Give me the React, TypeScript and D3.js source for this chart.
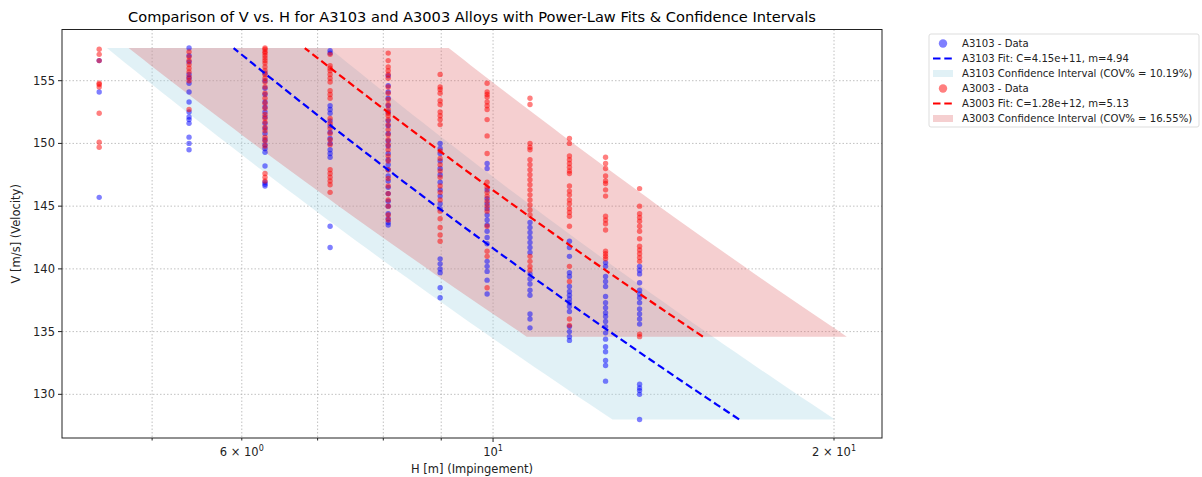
import React from 'react';
import * as d3 from 'd3';

// H positions of the test columns (log axis)
const hValues = [4.49, 5.39, 6.29, 7.18, 8.08, 8.98, 9.88, 10.78, 11.68, 12.57, 13.47];

// A3103 velocities per H column
const a3103V = [
  [156.6, 154.1, 145.7],
  [157.6, 157.0, 156.5, 155.5, 155.2, 154.8, 154.1, 153.3, 152.5, 152.1, 151.9, 151.6, 150.5, 150.0, 149.5],
  [155.6, 155.0, 154.4, 153.9, 153.3, 152.9, 152.5, 152.1, 151.6, 151.2, 150.8, 150.3, 149.9, 149.6, 149.3, 148.2, 146.9, 146.75, 146.6],
  [157.4, 157.2, 153.0, 152.7, 152.4, 151.8, 151.4, 150.9, 150.4, 150.0, 149.5, 149.2, 148.9, 143.4, 141.7],
  [155.4, 154.6, 154.1, 153.6, 153.0, 152.5, 151.8, 151.4, 150.8, 150.2, 149.8, 149.2, 148.7, 148.3, 147.9, 147.4, 147.0, 146.5, 146.0, 145.4, 145.0, 144.4, 144.0, 143.7, 143.5],
  [150.0, 149.6, 149.2, 148.6, 148.0, 147.5, 146.9, 146.3, 145.8, 145.2, 144.8, 140.8, 140.4, 140.0, 139.7, 138.5, 137.7],
  [148.4, 148.0, 146.3, 145.6, 145.2, 144.8, 144.3, 143.9, 143.5, 143.0, 142.5, 142.0, 140.6, 140.2, 139.8, 139.1, 138.0],
  [143.7, 143.3, 142.9, 142.5, 142.1, 141.7, 141.3, 139.6, 139.2, 138.8, 138.3, 137.9, 136.4, 136.0, 135.3],
  [142.2, 141.7, 141.0, 139.7, 139.4, 138.6, 138.2, 137.9, 137.6, 137.3, 137.0, 136.6, 135.4, 135.0, 134.6, 134.3],
  [140.5, 140.2, 139.4, 139.0, 138.6, 137.8, 137.3, 136.9, 136.5, 136.2, 135.8, 135.4, 134.9, 134.4, 133.8, 133.4, 132.7, 132.3, 131.05],
  [140.2, 139.9, 139.6, 138.9, 138.3, 138.0, 137.7, 137.3, 136.8, 136.4, 136.0, 135.6, 130.8, 130.5, 130.3, 130.0, 128.0],
];

// A3003 velocities per H column
const a3003V = [
  [157.5, 157.1, 156.6, 154.8, 154.7, 154.5, 152.4, 150.1, 149.7],
  [157.3, 156.9, 156.6, 156.3, 156.0, 155.7, 155.3, 155.0, 152.7],
  [157.6, 157.5, 157.3, 157.2, 157.0, 156.8, 156.6, 156.4, 156.1, 155.8, 155.5, 155.2, 154.9, 154.5, 154.0, 153.6, 153.2, 152.8, 152.3, 152.0, 151.7, 151.3, 151.0, 150.5, 150.2, 149.8, 147.6, 147.3, 147.0],
  [157.1, 156.2, 156.0, 155.8, 155.5, 155.2, 154.9, 154.2, 153.9, 153.6, 152.0, 151.6, 151.2, 150.8, 150.3, 149.9, 147.9, 147.6, 147.3, 147.0, 146.7, 146.1],
  [157.2, 156.6, 156.1, 155.8, 155.5, 155.2, 154.5, 154.0, 153.5, 153.1, 152.7, 152.4, 152.2, 151.9, 151.5, 151.1, 150.7, 150.3, 149.9, 149.5, 149.0, 148.6, 147.9, 147.2, 146.6, 146.0, 145.5, 145.0, 144.3, 143.9],
  [155.5, 154.5, 154.3, 154.0, 153.4, 153.1, 152.5, 152.2, 151.9, 151.5, 149.4, 148.8, 148.3, 147.8, 147.3, 146.6, 146.1, 145.5, 144.6, 144.0, 143.3, 142.7, 142.2],
  [154.8, 154.1, 153.9, 153.7, 153.3, 153.0, 152.7, 151.9, 150.6, 149.2, 146.9, 146.5, 146.1, 145.8, 145.4, 145.0, 144.6, 143.4, 141.4, 141.0, 138.5],
  [153.6, 153.1, 150.0, 149.7, 149.5, 148.7, 148.3, 147.9, 147.5, 147.1, 146.7, 146.3, 145.9, 145.5, 145.1, 144.7, 144.3, 141.0, 140.6, 140.2, 139.9],
  [150.4, 150.0, 149.0, 148.7, 148.4, 148.1, 147.8, 147.6, 146.6, 146.2, 145.9, 145.5, 145.2, 144.8, 144.5, 144.2, 143.4, 140.2, 139.0, 136.0, 135.5],
  [148.9, 148.4, 148.0, 147.4, 147.0, 146.8, 146.3, 145.8, 144.2, 143.9, 143.6, 143.1, 141.4, 141.2, 141.0, 140.8],
  [146.4, 145.0, 144.4, 144.1, 143.8, 143.4, 143.0, 142.4, 141.8, 141.5, 141.2, 140.9, 140.6, 134.8, 134.6],
];

// power-law fit H = C / V^m, as drawn
const fitC = [4.235e11, 1.28e12];
const fitM = [4.94, 5.13];
// confidence band factors on H (lower, upper)
const bandLo = [0.773, 0.699];
const bandHi = [1.215, 1.34];

const legendLabels = [
  'A3103 - Data',
  'A3103 Fit: C=4.15e+11, m=4.94',
  'A3103 Confidence Interval (COV% = 10.19%)',
  'A3003 - Data',
  'A3003 Fit: C=1.28e+12, m=5.13',
  'A3003 Confidence Interval (COV% = 16.55%)',
];

const yTicks = [130, 135, 140, 145, 150, 155];
const xMinor = [5, 6, 7, 8, 9, 20];

const W = 1202;
const H = 477;
const left = 62, right = 882, top = 29.5, bottom = 438;
const font = 'DejaVu Sans, sans-serif';

const x = d3.scaleLog().domain([4.163, 22.05]).range([left, right]);
const y = d3.scaleLinear().domain([126.52, 159.08]).range([bottom, top]);

const alloys = [
  { data: a3103V, dot: 'rgba(0,0,255,0.5)', line: '#0000ff', band: 'rgba(173,216,230,0.36)' },
  { data: a3003V, dot: 'rgba(255,0,0,0.5)', line: '#ff0000', band: 'rgba(222,96,100,0.3)' },
];

const lineGen = d3.line<[number, number]>().x(d => x(d[0])).y(d => y(d[1]));

function fitPts(i: number) {
  const all = alloys[i].data.flat();
  const lo = d3.min(all)!, hi = d3.max(all)!;
  const vs = d3.range(0, 51).map(k => lo + (hi - lo) * k / 50);
  return vs.map(v => [fitC[i] / Math.pow(v, fitM[i]), v] as [number, number]);
}

function bandPath(i: number) {
  const pts = fitPts(i);
  const lo = pts.map(([h, v]) => [h * bandLo[i], v] as [number, number]);
  const hi = pts.map(([h, v]) => [h * bandHi[i], v] as [number, number]).reverse();
  return lineGen([...lo, ...hi]) + 'Z';
}

const Sup = ({ base, exp, pre }: { base: string; exp: string; pre?: string }) => (
  <>
    {pre && <tspan>{pre}</tspan>}
    <tspan>{base}</tspan>
    <tspan dy={-5} fontSize={8}>{exp}</tspan>
  </>
);

export default function App() {
  const gridStyle = { stroke: '#b0b0b0', strokeWidth: 0.8, strokeDasharray: '1.5,2' };
  return (
    <svg width={W} height={H} style={{ position: 'absolute', left: 0, top: 0, background: '#fff' }} fontFamily={font}>
      <text x={(left + right) / 2} y={22} textAnchor="middle" fontSize={14.6} fill="#000">
        Comparison of V vs. H for A3103 and A3003 Alloys with Power-Law Fits &amp; Confidence Intervals
      </text>

      {/* grid */}
      {[...xMinor, 10].map(t => (
        <line key={'gx' + t} x1={x(t)} x2={x(t)} y1={top} y2={bottom} style={gridStyle} />
      ))}
      {yTicks.map(t => (
        <line key={'gy' + t} x1={left} x2={right} y1={y(t)} y2={y(t)} style={gridStyle} />
      ))}

      <defs>
        <clipPath id="plot">
          <rect x={left} y={top} width={right - left} height={bottom - top} />
        </clipPath>
      </defs>

      <g clipPath="url(#plot)">
        {alloys.map((a, i) => (
          <path key={'band' + i} d={bandPath(i)} fill={a.band} />
        ))}
        {alloys.map((a, i) => (
          <g key={'dots' + i}>
            {a.data.map((col, c) =>
              col.map((v, k) => <circle key={c + '-' + k} cx={x(hValues[c])} cy={y(v)} r={2.7} fill={a.dot} />)
            )}
          </g>
        ))}
        {alloys.map((a, i) => (
          <path key={'fit' + i} d={lineGen(fitPts(i))!} fill="none" stroke={a.line} strokeWidth={2.2} strokeDasharray="7.5,3.8" />
        ))}
      </g>

      {/* frame */}
      <rect x={left} y={top} width={right - left} height={bottom - top} fill="none" stroke="#222" strokeWidth={1} />

      {/* y axis */}
      {yTicks.map(t => (
        <g key={'yt' + t}>
          <line x1={left - 4} x2={left} y1={y(t)} y2={y(t)} stroke="#222" />
          <text x={left - 7} y={y(t) + 4} textAnchor="end" fontSize={11.5} fill="#222">{t}</text>
        </g>
      ))}
      <text transform={`translate(20,${(top + bottom) / 2}) rotate(-90)`} textAnchor="middle" fontSize={11.5} fill="#222">
        V [m/s] (Velocity)
      </text>

      {/* x axis */}
      {xMinor.map(t => (
        <line key={'xm' + t} x1={x(t)} x2={x(t)} y1={bottom} y2={bottom + 2.5} stroke="#222" />
      ))}
      <line x1={x(10)} x2={x(10)} y1={bottom} y2={bottom + 4} stroke="#222" />
      <text x={x(6)} y={bottom + 18} textAnchor="middle" fontSize={11.5} fill="#222">
        <Sup pre="6 × " base="10" exp="0" />
      </text>
      <text x={x(10)} y={bottom + 18} textAnchor="middle" fontSize={11.5} fill="#222">
        <Sup base="10" exp="1" />
      </text>
      <text x={x(20)} y={bottom + 18} textAnchor="middle" fontSize={11.5} fill="#222">
        <Sup pre="2 × " base="10" exp="1" />
      </text>
      <text x={(left + right) / 2} y={bottom + 35} textAnchor="middle" fontSize={11.5} fill="#222">
        H [m] (Impingement)
      </text>

      {/* legend */}
      <g transform="translate(929,34)">
        <rect x={0} y={0} width={270} height={93} rx={2} fill="#fff" stroke="#ddd" />
        {legendLabels.map((lab, k) => {
          const a = alloys[Math.floor(k / 3)];
          const cy = 9.5 + k * 15;
          const kind = k % 3;
          return (
            <g key={lab}>
              {kind === 0 && <circle cx={14} cy={cy} r={4.2} fill={a.dot} />}
              {kind === 1 && (
                <line x1={4} x2={24} y1={cy} y2={cy} stroke={a.line} strokeWidth={2.2} strokeDasharray="7.5,3.8" />
              )}
              {kind === 2 && <rect x={4} y={cy - 3.5} width={20} height={7} fill={a.band} />}
              <text x={33} y={cy + 3.5} fontSize={10.1} fill="#222">{lab}</text>
            </g>
          );
        })}
      </g>
    </svg>
  );
}
